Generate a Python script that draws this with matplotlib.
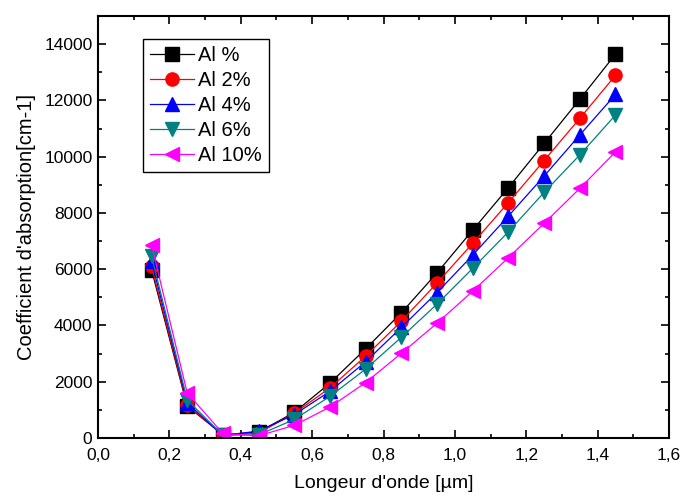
import numpy as np
import matplotlib.pyplot as plt
from matplotlib.ticker import MultipleLocator, FuncFormatter

plt.rcParams['font.family'] = ['Liberation Sans', 'DejaVu Sans']

wavelength = [0.15, 0.25, 0.35, 0.45, 0.55, 0.65, 0.75, 0.85, 0.95, 1.05, 1.15, 1.25, 1.35, 1.45]

al_0 = [5980, 1130, 120, 210, 910, 1950, 3170, 4450, 5870, 7390, 8900, 10470, 12040, 13640]
al_2 = [6100, 1170, 100, 170, 880, 1780, 2910, 4150, 5510, 6920, 8370, 9860, 11360, 12890]
al_4 = [6300, 1250, 80, 250, 830, 1660, 2710, 3930, 5170, 6500, 7890, 9310, 10770, 12210]
al_6 = [6470, 1350, 100, 110, 660, 1480, 2450, 3580, 4760, 6030, 7330, 8730, 10060, 11480]
al_10 = [6860, 1600, 160, 80, 450, 1100, 1970, 3010, 4080, 5220, 6410, 7630, 8870, 10170]

labels = ['Al %', 'Al 2%', 'Al 4%', 'Al 6%', 'Al 10%']
colors = ['black', 'red', 'blue', '#008080', 'magenta']
markers = ['s', 'o', '^', 'v', '<']
series = [al_0, al_2, al_4, al_6, al_10]

fig = plt.figure(figsize=(6.8, 4.98), dpi=100)
ax = fig.add_axes([98 / 680, 60 / 498, 571 / 680, 422 / 498])

for y, lab, c, m in zip(series, labels, colors, markers):
    ax.plot(wavelength, y, color=c, marker=m, markersize=9.5, linewidth=0.9,
            markeredgecolor=c, label=lab)

ax.set_xlim(0, 1.6)
ax.set_ylim(0, 15000)
ax.xaxis.set_major_locator(MultipleLocator(0.2))
ax.xaxis.set_minor_locator(MultipleLocator(0.1))
ax.yaxis.set_major_locator(MultipleLocator(2000))
ax.yaxis.set_minor_locator(MultipleLocator(1000))
ax.xaxis.set_major_formatter(FuncFormatter(lambda v, p: ('%.1f' % v).replace('.', ',')))
ax.tick_params(which='both', direction='in', top=True, right=True, labelsize=12.5, width=1.2)
ax.tick_params(which='major', length=6)
ax.tick_params(which='minor', length=3)
ax.tick_params(axis='x', which='major', pad=7)
ax.tick_params(axis='y', which='major', pad=4)
for s in ax.spines.values():
    s.set_linewidth(1.5)

ax.set_xlabel("Longeur d'onde [µm]", fontsize=14, labelpad=9)
ax.set_ylabel("Coefficient d'absorption[cm-1]", fontsize=14.5, labelpad=6)

leg = ax.legend(loc='upper left', bbox_to_anchor=(0.079, 0.9455), borderaxespad=0,
                fontsize=14.5, fancybox=False, edgecolor='black', framealpha=1,
                handlelength=2.2, labelspacing=0.3, borderpad=0.35, handletextpad=0.2)
leg.get_frame().set_linewidth(1.0)

fig.savefig('out.png', dpi=100)
